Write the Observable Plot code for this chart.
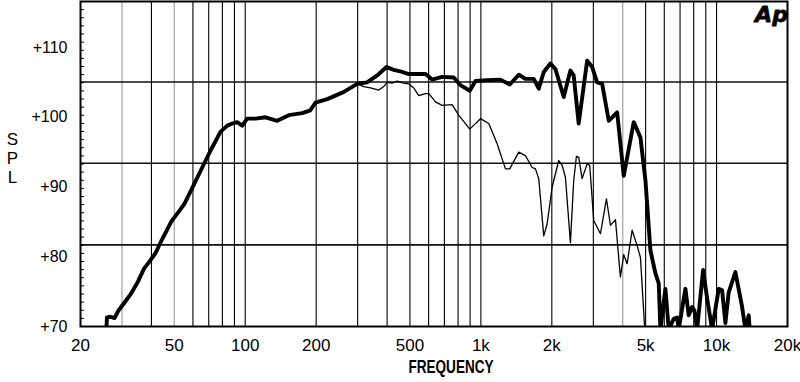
<!DOCTYPE html>
<html><head><meta charset="utf-8">
<script src="https://cdn.jsdelivr.net/npm/d3@7"></script>
<script src="https://cdn.jsdelivr.net/npm/@observablehq/plot@0.6"></script>
<style>
html,body{margin:0;padding:0;background:#fff;}
#chart svg{display:block;}
</style></head><body><div id="chart"></div>
<script>
// On-axis response (thick)
const onFreq = [
  25.8, 25.9, 26.8, 27.9, 29.0, 30.7, 32.6, 34.9, 37.2, 39.2,
  41.6, 44.1, 48.7, 53.1, 55.2, 59.7, 65.7, 71.2, 78.5, 83.9,
  88.0, 92.5, 97.1, 101.9, 110.5, 121.9, 136.6, 153, 174.4, 189,
  198.6, 222.8, 261, 298.6, 329, 363, 397.6, 427, 463, 494,
  582, 621, 685, 767, 819, 897, 949, 1063, 1210, 1326,
  1448, 1545, 1676, 1760, 1848, 1973, 2072, 2246, 2398, 2476,
  2600, 2824, 2966, 3114, 3270, 3488, 3786, 4038, 4452, 4754,
  4993, 5242, 5504, 5684, 5778, 6067, 6266, 6580, 6802, 6908,
  7377, 7618, 7876, 8054, 8271, 8770, 9120, 9575, 10212, 10556,
  10902, 11260, 12022, 12836, 13256, 13690, 13823
];
const onSpl = [
  70.0, 71.3, 71.4, 71.2, 72.3, 73.4, 74.6, 76.3, 78.3, 79.3,
  80.5, 82.3, 85.1, 86.8, 87.6, 89.9, 92.8, 95.2, 97.9, 98.8,
  99.1, 99.3, 98.8, 99.8, 99.8, 100.0, 99.5, 100.3, 100.6, 101.0,
  102.1, 102.6, 103.6, 104.8, 105.0, 106.0, 107.2, 106.8, 106.5, 106.2,
  106.2, 105.4, 105.8, 105.7, 104.6, 103.8, 105.2, 105.3, 105.4, 104.7,
  106.1, 105.5, 105.5, 104.1, 106.5, 107.7, 106.9, 102.9, 106.7, 106.0,
  99.1, 108.1, 107.2, 105.0, 104.8, 99.5, 100.7, 91.6, 99.3, 97.1,
  90.9, 80.9, 77.6, 76.2, 69.6, 75.4, 69.6, 71.1, 71.3, 69.6,
  75.4, 71.6, 72.8, 72.3, 69.6, 78.1, 74.0, 69.6, 75.4, 75.2,
  70.5, 74.9, 77.8, 72.8, 69.6, 71.6, 69.6
];
// Off-axis response (thin)
const offFreq = [
  298.6, 318.4, 340, 368.8, 387, 400, 420, 441, 471, 494,
  519, 545, 582, 601, 642, 685, 755, 805, 897, 996,
  1080, 1172, 1271, 1326, 1448, 1545, 1650, 1704, 1760, 1848,
  1910, 2006, 2140, 2212, 2284, 2398, 2476, 2543, 2600, 2688,
  2824, 2896, 3012, 3216, 3410, 3546, 3724, 3908, 4038, 4174,
  4382, 4602, 4754, 4942, 4993
];
const offSpl = [
  104.8, 104.4, 104.2, 103.9, 104.4, 105.0, 104.9, 105.2, 104.9, 104.8,
  104.2, 103.1, 103.4, 103.4, 102.2, 101.7, 101.8, 100.3, 98.3, 99.8,
  99.1, 96.2, 92.6, 92.6, 95.0, 94.5, 92.8, 92.6, 91.2, 83.0,
  84.7, 90.0, 93.8, 93.1, 91.4, 82.0, 90.9, 94.4, 94.3, 91.2,
  93.3, 93.1, 85.2, 83.3, 88.3, 84.5, 85.3, 77.1, 80.3, 79.0,
  83.8, 81.6, 79.9, 70.4, 69.0
];

const yMin = 70, yMax = 116.6;
const gridY = [81.7, 93.4, 105.05];
const minorY = d3.range(0, 41).map(i => yMin + i * (yMax - yMin) / 40);
const gridX = [30,40,60,70,80,90,100,200,300,400,500,600,700,800,900,1000,2000,3000,5000,6000,7000,8000,9000,10000];
const grayGridX = [30, 50, 4000];
const xTicks = [20,50,100,200,500,1000,2000,5000,10000,20000];
const xTickLabels = ["20","50","100","200","500","1k","2k","5k","10k","20k"];
const yTicks = [70,80,90,100,110];
const yTickLabels = ["+70","+80","+90","+100","+110"];

const onAxis = onFreq.map((f, i) => ({f, spl: onSpl[i]}));
const offAxis = offFreq.map((f, i) => ({f, spl: offSpl[i]}));
const xLabelData = xTicks.map((f, i) => ({f, label: xTickLabels[i]}));

const plot = Plot.plot({
  width: 800, height: 382,
  marginLeft: 80, marginRight: 13, marginTop: 1, marginBottom: 56,
  style: {fontFamily: "'Liberation Sans', Arial, sans-serif", background: "#fff", color: "#000"},
  x: {type: "log", domain: [20, 20000], axis: null},
  y: {domain: [yMin, yMax]},
  marks: [
    Plot.ruleX(gridX.filter(d => !grayGridX.includes(d)), {stroke: "#000", strokeWidth: 1.1}),
    Plot.ruleX(grayGridX, {stroke: "#999", strokeWidth: 1.1}),
    Plot.ruleY(gridY, {stroke: "#111", strokeWidth: 1.6}),
    Plot.axisY(minorY, {anchor: "left", tickSize: 4, dx: 4, tickFormat: () => "", label: null}),
    Plot.axisY(yTicks, {anchor: "left", tickSize: 0, tickPadding: 13, fontSize: 16, tickFormat: d => yTickLabels[yTicks.indexOf(d)], label: null}),
    Plot.text(xLabelData, {x: "f", text: "label", frameAnchor: "bottom", lineAnchor: "top", dy: 12, fontSize: 17}),
    Plot.line(offAxis, {x: "f", y: "spl", stroke: "#000", strokeWidth: 1.3, clip: true}),
    Plot.line(onAxis, {x: "f", y: "spl", stroke: "#000", strokeWidth: 3.9, strokeLinejoin: "round", clip: true}),
    Plot.frame({stroke: "#000", strokeWidth: 2}),
    Plot.text(["FREQUENCY"], {frameAnchor: "bottom", dx: 17, dy: 41, fontSize: 18, fontWeight: "bold", lineAnchor: "middle"}),
    Plot.text(["S\nP\nL"], {frameAnchor: "left", dx: -68, dy: -6, fontSize: 17, lineHeight: 1.12, textAnchor: "middle", lineAnchor: "middle"}),
    Plot.text(["Ap"], {frameAnchor: "top-right", dx: -16, dy: 13, fontSize: 22, fontWeight: "bold", fontStyle: "italic", fontFamily: "'DejaVu Sans', sans-serif", fill: "#000", stroke: "#000", strokeWidth: 0.8, textAnchor: "middle", lineAnchor: "middle"})
  ]
});
d3.select(plot).selectAll("text").filter(function(){ return this.textContent === "FREQUENCY"; })
  .attr("textLength", 85).attr("lengthAdjust", "spacingAndGlyphs");
document.getElementById("chart").appendChild(plot);
</script></body></html>
